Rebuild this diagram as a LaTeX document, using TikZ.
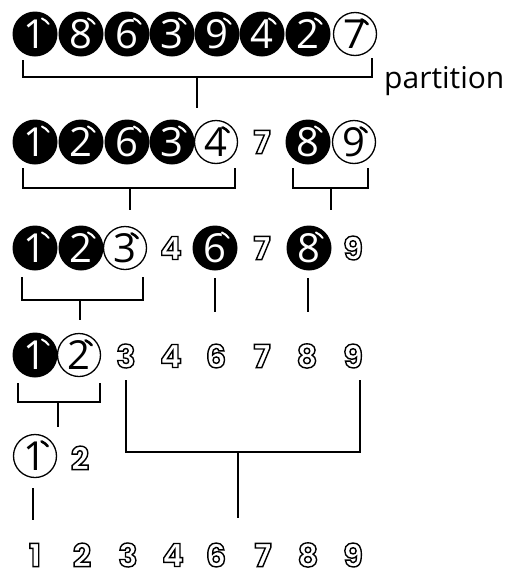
\documentclass[tikz,border=0pt]{standalone}
\usepackage{fontspec}
\setmainfont{Open Sans}
\newfontfamily\odfont{Poppins}
\newcommand\balfont{\fontsize{40}{40}\selectfont}
\newcommand\odsize{\odfont\bfseries\fontsize{32}{32}\selectfont}
\newcommand\odg[1]{\special{pdf:literal direct 1 Tr 1.4 w}#1\special{pdf:literal direct 0 Tr}}
\tikzset{
  bk/.style={circle, fill=black, minimum size=45pt, inner sep=0pt, text=white, font=\balfont},
  wt/.style={circle, draw=black, line width=1.3pt, fill=white, minimum size=43pt, inner sep=0pt, text=black, font=\balfont},
  od/.style={inner sep=0pt, font=\odsize},
  hlw/.style={white, line width=2pt, line cap=round},
  hlb/.style={black, line width=2.6pt, line cap=round},
  br/.style={black, line width=2.6pt},
}
\newcommand\bball[4]{\node[bk] (#1) at (#2,#3) {#4};
  \draw[hlw] ([shift={(36:17pt)}]#1.center) arc (36:66:17pt);}
\newcommand\wball[4]{\node[wt] (#1) at (#2,#3) {#4};
  \draw[hlb] ([shift={(38:16pt)}]#1.center) arc (38:66:16pt);}
\newcommand\onum[4]{\node[od] (#1) at (#2,#3) {\odg{#4}};}
\begin{document}
\begin{tikzpicture}[x=1pt,y=1pt]
\useasboundingbox (0,0) rectangle (516,-576);
% row 1
\bball{a1}{35}{-34}{1}
\bball{a2}{81}{-34}{8}
\bball{a3}{127}{-34}{6}
\bball{a4}{172}{-34}{3}
\bball{a5}{217}{-34}{9}
\bball{a6}{262}{-34}{4}
\bball{a7}{308}{-34}{2}
\wball{a8}{355}{-34}{7}
\node[anchor=base west, inner sep=0pt, font=\fontsize{30}{30}\selectfont] (part) at (384,-88) {partition};
\coordinate (p1l) at (23,-60); \coordinate (p1r) at (372,-58);
\coordinate (p1s) at (197,-77); \coordinate (p1e) at (197,-108);
\draw[br] (p1l) |- (p1s) -| (p1r);
\draw[br] (p1s) -- (p1e);
% row 2
\bball{b1}{35}{-142}{1}
\bball{b2}{81}{-142}{2}
\bball{b3}{127}{-142}{6}
\bball{b4}{172}{-142}{3}
\wball{b5}{216}{-142}{4}
\onum{b6}{262}{-142}{7}
\bball{b7}{308}{-142}{8}
\wball{b8}{354}{-142}{9}
\coordinate (p2l) at (23,-168); \coordinate (p2r) at (235,-168);
\coordinate (p2s) at (130,-188); \coordinate (p2e) at (130,-210);
\draw[br] (p2l) |- (p2s) -| (p2r);
\draw[br] (p2s) -- (p2e);
\coordinate (p3l) at (293,-168); \coordinate (p3r) at (368,-168);
\coordinate (p3s) at (331,-188); \coordinate (p3e) at (331,-210);
\draw[br] (p3l) |- (p3s) -| (p3r);
\draw[br] (p3s) -- (p3e);
% row 3
\bball{c1}{35}{-248}{1}
\bball{c2}{81}{-248}{2}
\wball{c3}{125}{-248}{3}
\onum{c4}{171}{-248}{4}
\bball{c5}{215}{-248}{6}
\onum{c6}{262}{-248}{7}
\bball{c7}{309}{-248}{8}
\onum{c8}{353}{-248}{9}
\coordinate (p4l) at (22,-277); \coordinate (p4r) at (143,-277);
\coordinate (p4s) at (80,-300); \coordinate (p4e) at (80,-320);
\draw[br] (p4l) |- (p4s) -| (p4r);
\draw[br] (p4s) -- (p4e);
\coordinate (p5t) at (215,-278); \coordinate (p5e) at (215,-312);
\draw[br] (p5t) -- (p5e);
\coordinate (p6t) at (308,-278); \coordinate (p6e) at (308,-312);
\draw[br] (p6t) -- (p6e);
% row 4
\bball{d1}{35}{-355}{1}
\wball{d2}{79}{-355}{2}
\onum{d3}{126}{-356}{3}
\onum{d4}{171}{-356}{4}
\onum{d5}{216}{-356}{6}
\onum{d6}{262}{-356}{7}
\onum{d7}{307}{-356}{8}
\onum{d8}{353}{-356}{9}
\coordinate (p7l) at (18,-383); \coordinate (p7r) at (100,-383);
\coordinate (p7s) at (58,-402); \coordinate (p7e) at (58,-427);
\draw[br] (p7l) |- (p7s) -| (p7r);
\draw[br] (p7s) -- (p7e);
\coordinate (p8l) at (126,-380); \coordinate (p8r) at (360,-380);
\coordinate (p8s) at (238,-452); \coordinate (p8e) at (238,-518);
\draw[br] (p8l) |- (p8s) -| (p8r);
\draw[br] (p8s) -- (p8e);
% row 5
\wball{e1}{35}{-456}{1}
\onum{e2}{80}{-458}{2}
\coordinate (p9t) at (33,-488); \coordinate (p9e) at (33,-520);
\draw[br] (p9t) -- (p9e);
% row 6
\onum{f1}{35}{-555}{1}
\onum{f2}{82}{-555}{2}
\onum{f3}{128}{-555}{3}
\onum{f4}{173}{-555}{4}
\onum{f5}{216}{-555}{6}
\onum{f6}{263}{-555}{7}
\onum{f7}{308}{-555}{8}
\onum{f8}{353}{-555}{9}
\end{tikzpicture}
\end{document}
